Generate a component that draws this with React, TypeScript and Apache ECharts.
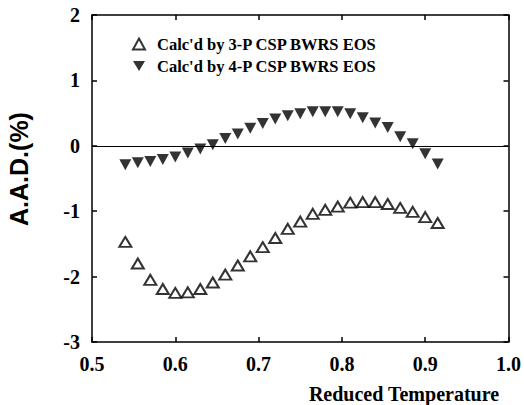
import React, { useEffect, useRef } from "react";
import * as echarts from "echarts";

const tempX = [0.54, 0.555, 0.57, 0.585, 0.6, 0.615, 0.63, 0.645, 0.66, 0.675, 0.69, 0.705, 0.72, 0.735, 0.75, 0.765, 0.78, 0.795, 0.81, 0.825, 0.84, 0.855, 0.87, 0.885, 0.9, 0.915];
const aad3P = [-1.47, -1.8, -2.05, -2.19, -2.25, -2.24, -2.19, -2.09, -1.97, -1.83, -1.69, -1.55, -1.41, -1.27, -1.16, -1.04, -0.98, -0.93, -0.87, -0.86, -0.86, -0.89, -0.95, -1.01, -1.09, -1.18];
const aad4P = [-0.29, -0.26, -0.24, -0.21, -0.17, -0.11, -0.05, 0.015, 0.11, 0.18, 0.27, 0.34, 0.41, 0.46, 0.49, 0.52, 0.52, 0.52, 0.49, 0.43, 0.35, 0.28, 0.14, 0.03, -0.12, -0.28];
const seriesNames = ["Calc'd by 3-P CSP BWRS EOS", "Calc'd by 4-P CSP BWRS EOS"];
const xTitle = "Reduced Temperature";
const yTitle = "A.A.D.(%)";

const SERIF = "'Liberation Serif', 'Times New Roman', serif";
const SANS = "'Liberation Sans', Arial, sans-serif";

export default function App() {
  const ref = useRef<HTMLDivElement>(null);
  useEffect(() => {
    if (!ref.current) return;
    const chart = echarts.init(ref.current, null, { renderer: "svg" });
    const axisLine = { show: true, onZero: false, lineStyle: { color: "#000", width: 1.5 } };
    const axisTick = { show: true, inside: true, length: 5, lineStyle: { color: "#000", width: 1.5 } };
    const labelStyle = { color: "#000", fontFamily: SERIF, fontWeight: "bold" as const, fontSize: 20 };
    chart.setOption({
      animation: false,
      backgroundColor: "#fff",
      grid: { left: 92, right: 15, top: 15, bottom: 63, containLabel: false },
      legend: {
        orient: "vertical",
        left: 127,
        top: 29,
        itemWidth: 12,
        itemHeight: 11,
        itemGap: 2,
        data: seriesNames,
        textStyle: { color: "#000", fontFamily: SERIF, fontWeight: "bold", fontSize: 16.5, lineHeight: 20, padding: [0, 0, 0, 7] },
      },
      xAxis: [
        {
          type: "value",
          min: 0.5,
          max: 1.0,
          interval: 0.1,
          position: "bottom",
          axisLine,
          axisTick,
          splitLine: { show: false },
          axisLabel: { ...labelStyle, margin: 12, formatter: (v: number) => v.toFixed(1) },
        },
        {
          type: "value",
          min: 0.5,
          max: 1.0,
          interval: 0.1,
          position: "top",
          axisLine,
          axisTick,
          splitLine: { show: false },
          axisLabel: { show: false },
        },
      ],
      yAxis: [
        {
          type: "value",
          min: -3,
          max: 2,
          interval: 1,
          position: "left",
          axisLine,
          axisTick,
          splitLine: { show: false },
          axisLabel: { ...labelStyle, margin: 12 },
        },
        {
          type: "value",
          min: -3,
          max: 2,
          interval: 1,
          position: "right",
          axisLine,
          axisTick,
          splitLine: { show: false },
          axisLabel: { show: false },
        },
      ],
      graphic: [
        {
          type: "text",
          x: 404,
          y: 394,
          style: {
            text: xTitle,
            fill: "#000",
            font: `bold 20px ${SERIF}`,
            textAlign: "center",
            textVerticalAlign: "middle",
          },
        },
        {
          type: "text",
          x: 19,
          y: 169,
          rotation: Math.PI / 2,
          style: {
            text: yTitle,
            fill: "#000",
            font: `bold 25px ${SANS}`,
            textAlign: "center",
            textVerticalAlign: "middle",
          },
        },
      ],
      series: [
        {
          name: seriesNames[0],
          type: "scatter",
          symbol: "triangle",
          symbolSize: [12, 10],
          itemStyle: { color: "#fff", borderColor: "#000", borderWidth: 2 },
          data: tempX.map((x, i) => [x, aad3P[i]]),
        },
        {
          name: seriesNames[1],
          type: "scatter",
          symbol: "path://M0,0L12,0L6,10Z",
          symbolSize: [12, 11],
          itemStyle: { color: "#000" },
          data: tempX.map((x, i) => [x, aad4P[i]]),
          markLine: {
            silent: true,
            symbol: ["none", "none"],
            label: { show: false },
            lineStyle: { color: "#000", width: 1, type: "solid" },
            data: [{ yAxis: 0 }],
          },
        },
      ],
    });
    return () => chart.dispose();
  }, []);
  return <div ref={ref} style={{ position: "fixed", left: 0, top: 0, width: 524, height: 405 }} />;
}
